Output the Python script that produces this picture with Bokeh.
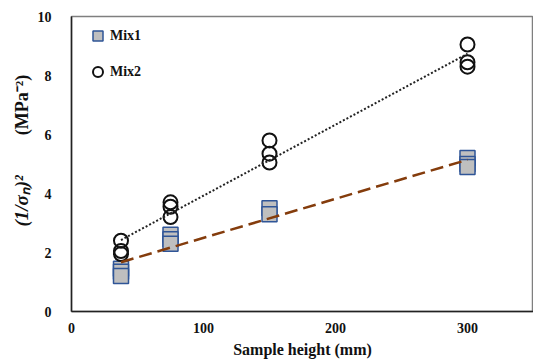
import numpy as np
from bokeh.plotting import figure
from bokeh.layouts import row
from bokeh.models import FixedTicker, Range1d, Label, Legend, LegendItem
from bokeh.embed import file_html
from bokeh.resources import INLINE

# data
mix1_x = [37.5, 37.5, 37.5, 75, 75, 75, 150, 150, 300, 300, 300]
mix1_y = [1.45, 1.35, 1.2, 2.6, 2.45, 2.3, 3.5, 3.3, 5.2, 5.0, 4.9]
mix2_x = [37.5, 37.5, 37.5, 75, 75, 75, 150, 150, 150, 300, 300, 300]
mix2_y = [2.4, 2.05, 1.95, 3.7, 3.55, 3.2, 5.8, 5.35, 5.05, 9.05, 8.45, 8.3]
x_ticks = [0, 100, 200, 300]
y_ticks = [0, 2, 4, 6, 8, 10]

FONT = "Liberation Serif"
TOP, BOTTOM = 16, 49

p = figure(width=499, height=360, output_backend="svg", toolbar_location=None,
           x_range=Range1d(0, 350), y_range=Range1d(0, 10),
           min_border_left=36, min_border_right=0, min_border_top=TOP, min_border_bottom=BOTTOM)
p.xgrid.visible = False
p.ygrid.visible = False
p.outline_line_color = "#7f7f7f"
p.outline_line_width = 1.5

for ax in (p.xaxis, p.yaxis):
    ax.major_tick_line_color = None
    ax.minor_tick_line_color = None
    ax.axis_line_color = "#222222"
    ax.axis_line_width = 1.5
    ax.major_label_text_font = FONT
    ax.major_label_text_font_style = "bold"
    ax.major_label_text_font_size = "14px"
    ax.major_label_text_color = "#111111"

p.xaxis.ticker = FixedTicker(ticks=x_ticks)
p.yaxis.ticker = FixedTicker(ticks=y_ticks)
p.xaxis.major_label_standoff = 5
p.yaxis.major_label_standoff = 14
p.xaxis.axis_label = "Sample height (mm)"
p.xaxis.axis_label_text_font = FONT
p.xaxis.axis_label_text_font_style = "bold"
p.xaxis.axis_label_text_font_size = "16px"
p.xaxis.axis_label_text_color = "#111111"
p.xaxis.axis_label_standoff = 5

r1 = p.scatter(mix1_x, mix1_y, marker="square", size=15, fill_color="#bfbfbf",
               line_color="#2f5597", line_width=1.5)
r2 = p.scatter(mix2_x, mix2_y, marker="circle", size=14, fill_alpha=0,
               line_color="#111111", line_width=2)

# linear trend lines fitted to the data
for xs, ys, color, dash, lw in [(mix1_x, mix1_y, "#843c0c", "13 6", 2.5),
                                (mix2_x, mix2_y, "#222222", "2 2", 2)]:
    k, b = np.polyfit(xs, ys, 1)
    lx = [min(xs), max(xs)]
    ly = [k * v + b for v in lx]
    p.line(lx, ly, line_color=color, line_dash=dash, line_width=lw)

legend = Legend(items=[LegendItem(label="Mix1", renderers=[r1]),
                       LegendItem(label="Mix2", renderers=[r2])],
                location=(14, 227), border_line_color=None, background_fill_alpha=0,
                label_text_font=FONT, label_text_font_style="bold",
                label_text_color="#111111",
                label_text_font_size="14px", label_height=25, glyph_height=25,
                glyph_width=25, spacing=11, padding=0, margin=0, label_standoff=0)
p.add_layout(legend)

# narrow panel holding the y-axis title
t = figure(width=34, height=360, output_backend="svg", toolbar_location=None,
           x_range=Range1d(0, 34), y_range=Range1d(0, 10),
           x_axis_location=None, y_axis_location=None,
           min_border_left=0, min_border_right=0, min_border_top=TOP, min_border_bottom=BOTTOM)
t.xgrid.visible = False
t.ygrid.visible = False
t.outline_line_color = None
t.add_layout(Label(x=21, y=7.0, text="(MPa⁻²)", angle=np.pi / 2,
                   text_font=FONT, text_font_style="bold", text_font_size="18px",
                   text_align="center", text_baseline="middle", text_color="#111111"))
t.add_layout(Label(x=21, y=3.75, text="(1/σₙ)²", angle=np.pi / 2,
                   text_font=FONT, text_font_style="bold italic", text_font_size="19px",
                   text_align="center", text_baseline="middle", text_color="#111111"))

layout = row(t, p, spacing=0)
open("out.html", "w").write(file_html(layout, INLINE))
